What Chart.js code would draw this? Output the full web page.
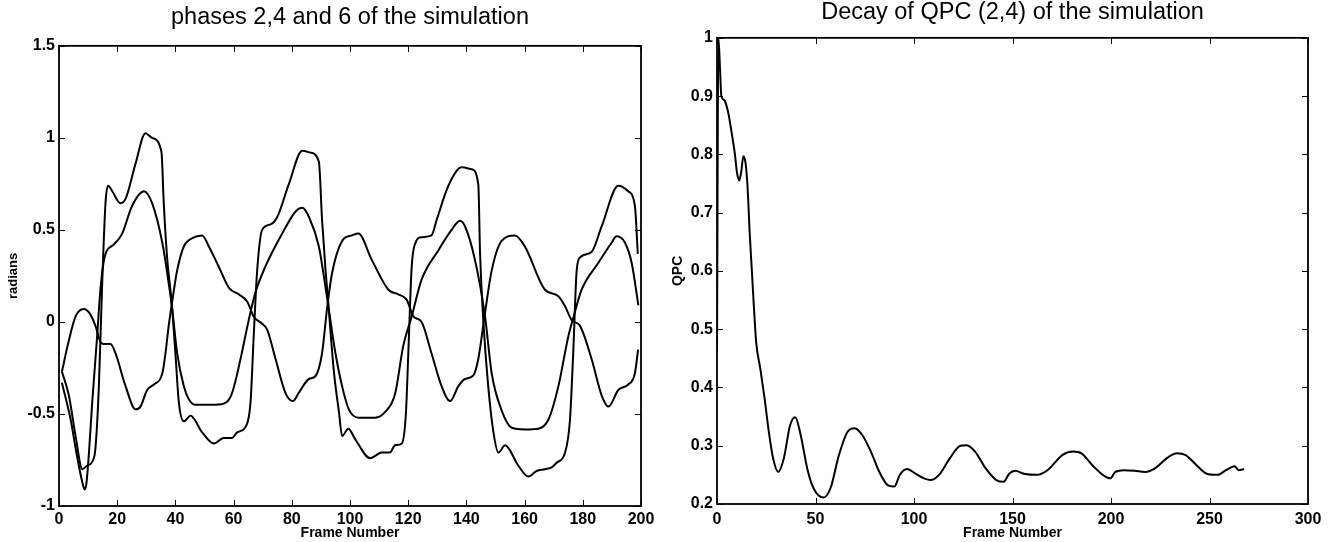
<!DOCTYPE html>
<html>
<head>
<meta charset="utf-8">
<script src="https://cdn.jsdelivr.net/npm/chart.js@4.4.1/dist/chart.umd.min.js"></script>
<style>
  html, body { margin: 0; padding: 0; background: #fff; }
  #wrap { position: relative; width: 1332px; height: 542px; }
  canvas { position: absolute; top: 0; }
  #phases { left: 0; }
  #decay { left: 666px; }
</style>
</head>
<body>
<div id="wrap">
  <canvas id="phases" width="666" height="542"></canvas>
  <canvas id="decay" width="666" height="542"></canvas>
</div>
<script>
// phase curves (frame number, radians)
const phaseAFrames = [1, 3.4, 5.7, 8, 9.7, 11.4, 12.5, 13.7, 14.8, 16, 16.9, 18.3, 21.1, 22.9, 26.3, 29.7, 32, 35.2, 36, 37.2, 38.7, 40, 41.2, 42.9, 45.2, 49.2, 53.2, 56.6, 59.5, 61.2, 64.1, 65.8, 66.9, 68.1, 69.8, 72.7, 75, 79, 83.6, 86.4, 89.3, 90.4, 91.6, 92.5, 94.4, 96.2, 97.3, 99.4, 101.9, 106.9, 110.9, 113.7, 115.5, 117.8, 119.2, 120.2, 121.2, 122.5, 124.5, 128, 129.8, 133.8, 138.4, 141.8, 144.1, 144.7, 145.8, 147.5, 149.3, 151, 153.3, 157.8, 161.3, 164.1, 167, 169.3, 171, 173.9, 175.6, 176.7, 177.9, 179, 183, 186.5, 192.2, 195.6, 197.9, 198.9];
const phaseAValues = [-0.27, -0.40, -0.62, -0.80, -0.78, -0.76, -0.69, -0.35, 0.19, 0.65, 0.74, 0.71, 0.645, 0.67, 0.86, 1.025, 1.0, 0.925, 0.645, 0.34, 0.11, -0.17, -0.44, -0.54, -0.51, -0.60, -0.66, -0.63, -0.63, -0.60, -0.57, -0.44, -0.08, 0.28, 0.5, 0.53, 0.57, 0.75, 0.93, 0.92, 0.87, 0.555, 0.28, 0.11, -0.26, -0.49, -0.62, -0.58, -0.64, -0.74, -0.71, -0.71, -0.67, -0.66, -0.5, -0.1, 0.3, 0.43, 0.46, 0.47, 0.555, 0.74, 0.84, 0.83, 0.745, 0.37, 0.01, -0.35, -0.6, -0.71, -0.67, -0.78, -0.84, -0.81, -0.8, -0.79, -0.765, -0.71, -0.53, -0.17, 0.28, 0.35, 0.38, 0.52, 0.74, 0.71, 0.63, 0.37];

const phaseBFrames = [1, 4, 6.2, 8, 8.8, 9.4, 10.3, 11.4, 13.1, 14.3, 15.8, 18.8, 21.7, 25.1, 29.2, 32, 35.5, 37.7, 38.9, 40.6, 42.9, 44.6, 46.9, 53.8, 57.2, 59.5, 62.4, 65.2, 67.5, 70.9, 76.7, 81.3, 83.6, 85.9, 89.3, 91, 92.7, 95, 97.3, 99.6, 102.9, 108.6, 112, 115.5, 118.3, 121.2, 124.6, 130.4, 134.9, 137.8, 139.5, 142.9, 146.4, 148.7, 152.1, 155.6, 160.1, 164.7, 168.2, 171.6, 175, 176.7, 179.6, 185.3, 189.9, 191.6, 194.5, 196.8, 199.1];
const phaseBValues = [-0.33, -0.53, -0.73, -0.87, -0.91, -0.88, -0.71, -0.44, -0.08, 0.19, 0.36, 0.42, 0.48, 0.63, 0.71, 0.645, 0.43, 0.21, 0.07, -0.17, -0.35, -0.42, -0.45, -0.45, -0.44, -0.385, -0.2, 0.01, 0.16, 0.30, 0.48, 0.60, 0.62, 0.57, 0.41, 0.25, 0.07, -0.17, -0.35, -0.475, -0.52, -0.52, -0.49, -0.39, -0.13, 0.03, 0.23, 0.39, 0.5, 0.55, 0.52, 0.34, 0.03, -0.28, -0.48, -0.575, -0.584, -0.58, -0.53, -0.35, -0.08, 0.02, 0.175, 0.32, 0.43, 0.465, 0.43, 0.32, 0.09];

const phaseCFrames = [1, 3.4, 5.7, 8.5, 10.8, 12.5, 14.3, 15.4, 17.7, 19.4, 22.9, 26.3, 28, 30.3, 32.6, 35.5, 36.6, 37.7, 38.9, 40.6, 42.9, 45.8, 49.2, 51.5, 54.9, 58.4, 61.8, 64.7, 66.9, 69.8, 71.5, 74.4, 77.8, 80.4, 82.4, 85.9, 88.1, 90.4, 92.2, 93.9, 97.3, 100.7, 102.9, 107.4, 113.2, 116.6, 119.5, 121.8, 124.6, 128, 131.5, 134.4, 137.2, 139.5, 142.4, 144.1, 146.4, 148.7, 152.1, 156.7, 160.1, 167, 171.6, 173.9, 176.2, 179, 183, 186.5, 188.8, 192.2, 195.6, 197.9, 199];
const phaseCValues = [-0.27, -0.10, 0.03, 0.07, 0.04, -0.02, -0.11, -0.12, -0.12, -0.17, -0.35, -0.475, -0.46, -0.37, -0.34, -0.28, -0.17, -0.02, 0.11, 0.28, 0.41, 0.455, 0.47, 0.41, 0.30, 0.185, 0.15, 0.11, 0.03, -0.01, -0.04, -0.2, -0.385, -0.43, -0.385, -0.31, -0.295, -0.17, 0.085, 0.27, 0.44, 0.47, 0.48, 0.34, 0.175, 0.15, 0.12, 0.03, 0.0, -0.17, -0.35, -0.43, -0.35, -0.31, -0.29, -0.2, 0.05, 0.28, 0.44, 0.47, 0.41, 0.175, 0.14, 0.085, 0.01, -0.02, -0.2, -0.40, -0.46, -0.37, -0.34, -0.28, -0.15];

// QPC decay curve
const qpcFrames = [0, 0.7, 1.5, 2.2, 3.7, 4.7, 5.8, 7.3, 9.1, 10.1, 11.2, 12.3, 13.4, 14.5, 15.5, 16.6, 17.7, 18.8, 19.9, 22, 24.2, 26.3, 28.5, 31.1, 33.9, 37.1, 39.7, 42.5, 45.8, 49, 54, 57.6, 61.9, 66.3, 69.9, 73.8, 78.1, 82.4, 86.8, 90, 92.8, 96.5, 100.8, 105.1, 108.4, 112.7, 118.1, 123.5, 126.7, 131, 136.4, 141.8, 145.5, 148.3, 151.5, 155.8, 162.3, 167.7, 175.3, 180.7, 185, 190.4, 195.8, 199.7, 202.2, 206.6, 212, 217.3, 222.7, 228.1, 233.5, 237.9, 243.3, 248.6, 254, 258.4, 262.7, 264.8, 267.6];
const qpcValues = [0.46, 1.0, 0.95, 0.90, 0.893, 0.885, 0.87, 0.84, 0.80, 0.77, 0.755, 0.77, 0.797, 0.785, 0.745, 0.665, 0.60, 0.534, 0.477, 0.432, 0.38, 0.324, 0.278, 0.255, 0.278, 0.335, 0.349, 0.318, 0.261, 0.227, 0.211, 0.227, 0.284, 0.324, 0.33, 0.318, 0.29, 0.255, 0.232, 0.23, 0.25, 0.26, 0.252, 0.244, 0.241, 0.25, 0.278, 0.3, 0.301, 0.29, 0.261, 0.241, 0.238, 0.252, 0.257, 0.252, 0.25, 0.258, 0.284, 0.29, 0.287, 0.267, 0.25, 0.244, 0.255, 0.258, 0.257, 0.255, 0.262, 0.278, 0.287, 0.284, 0.267, 0.252, 0.25, 0.258, 0.265, 0.258, 0.26];

// axis ranges / tick steps
const phaseXTicks = { min: 0, max: 200, step: 20 };
const phaseYTicks = { min: -1, max: 1.5, step: 0.5 };
const qpcXTicks = { min: 0, max: 300, step: 50 };
const qpcYTicks = { min: 0.2, max: 1, step: 0.1 };

Chart.defaults.font.family = '"Liberation Sans", Arial, Helvetica, sans-serif';
Chart.defaults.color = '#000';

const toPoints = (xs, ys) => xs.map((x, i) => ({ x: x, y: ys[i] }));
const fmt = v => String(+Number(v).toFixed(2));

// matlab style: closed box with inward ticks on every side
const matlabBox = {
  id: 'matlabBox',
  afterDatasetsDraw(chart) {
    const { ctx, chartArea: a, scales: { x, y } } = chart;
    const len = 6;
    ctx.save();
    ctx.strokeStyle = '#000';
    ctx.lineWidth = 1;
    ctx.beginPath();
    x.ticks.forEach(t => {
      const px = Math.round(x.getPixelForValue(t.value)) + 0.5;
      ctx.moveTo(px, a.bottom); ctx.lineTo(px, a.bottom - len);
      ctx.moveTo(px, a.top); ctx.lineTo(px, a.top + len);
    });
    y.ticks.forEach(t => {
      const py = Math.round(y.getPixelForValue(t.value)) + 0.5;
      ctx.moveTo(a.left, py); ctx.lineTo(a.left + len, py);
      ctx.moveTo(a.right, py); ctx.lineTo(a.right - len, py);
    });
    ctx.stroke();
    ctx.lineWidth = 1.8;
    ctx.strokeRect(a.left, a.top, a.right - a.left, a.bottom - a.top);
    ctx.restore();
  }
};

function lineSet(label, xs, ys) {
  return {
    label: label,
    data: toPoints(xs, ys),
    borderColor: '#000',
    borderWidth: 2,
    pointRadius: 0,
    fill: false,
    cubicInterpolationMode: 'monotone'
  };
}

function makeChart(id, cfg) {
  return new Chart(id, {
    type: 'line',
    data: { datasets: cfg.datasets },
    options: {
      responsive: false,
      animation: false,
      layout: { padding: { left: 0, right: cfg.padRight, top: 0, bottom: 0 } },
      plugins: {
        legend: { display: false },
        tooltip: { enabled: false },
        title: {
          display: true,
          text: cfg.title,
          fullSize: false,
          font: { size: 23.5, weight: 'normal', lineHeight: 1.1 },
          padding: cfg.titlePad
        }
      },
      scales: {
        x: {
          type: 'linear',
          min: cfg.xt.min, max: cfg.xt.max,
          grid: { display: false, drawTicks: false },
          border: { display: false },
          ticks: { stepSize: cfg.xt.step, padding: cfg.xPad, font: { size: 16, weight: 'bold' }, callback: fmt, maxRotation: 0 },
          title: { display: true, text: 'Frame Number', font: { size: 14, weight: 'bold', lineHeight: 1.1 }, padding: { top: 0, bottom: 1 } },
          afterFit(s) { s.height = cfg.xHeight; s.paddingLeft = 0; s.paddingRight = 0; }
        },
        y: {
          min: cfg.yt.min, max: cfg.yt.max,
          grid: { display: false, drawTicks: false },
          border: { display: false },
          ticks: { stepSize: cfg.yt.step, padding: cfg.yPad, font: { size: 16, weight: 'bold' }, callback: fmt },
          title: { display: true, text: cfg.yTitle, font: { size: cfg.yTitleSize, weight: 'bold', lineHeight: 1.1 }, padding: { top: cfg.yTitlePad, bottom: 0 } },
          afterFit(s) { s.width = cfg.yWidth; s.paddingTop = 0; s.paddingBottom = 0; }
        }
      }
    },
    plugins: [matlabBox]
  });
}

makeChart('phases', {
  title: 'phases 2,4 and 6 of the simulation',
  titlePad: { top: 5, bottom: 15 },
  datasets: [
    lineSet('phase 2', phaseAFrames, phaseAValues),
    lineSet('phase 4', phaseBFrames, phaseBValues),
    lineSet('phase 6', phaseCFrames, phaseCValues)
  ],
  xt: phaseXTicks, yt: phaseYTicks,
  padRight: 25, xHeight: 36, yWidth: 59,
  xPad: 4, yPad: 4,
  yTitle: 'radians', yTitleSize: 13, yTitlePad: 6
});

makeChart('decay', {
  title: 'Decay of QPC (2,4) of the simulation',
  titlePad: { top: 0, bottom: 12 },
  datasets: [lineSet('QPC', qpcFrames, qpcValues)],
  xt: qpcXTicks, yt: qpcYTicks,
  padRight: 24, xHeight: 38, yWidth: 51,
  xPad: 6, yPad: 4,
  yTitle: 'QPC', yTitleSize: 14, yTitlePad: 4
});
</script>
</body>
</html>
